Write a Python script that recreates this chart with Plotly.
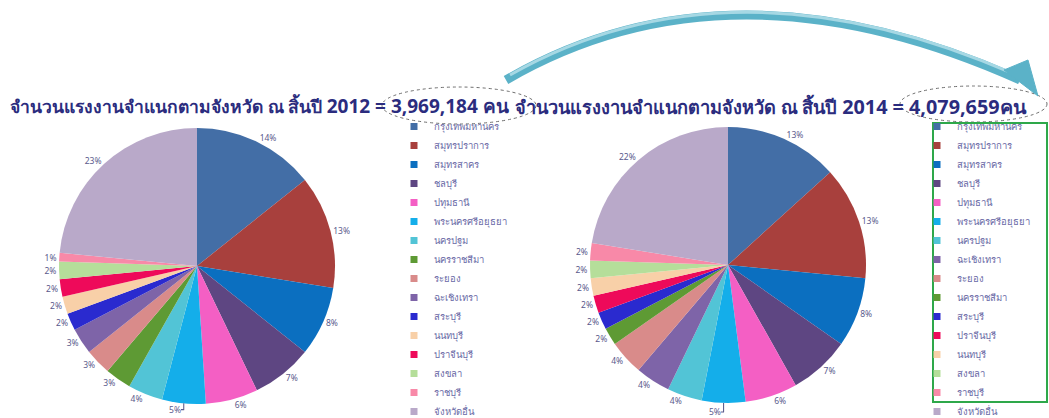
import plotly.graph_objects as go

W, H = 1049, 418

# Provinces (legend order differs between the two years)
provinces_2012 = ["กรุงเทพมหานคร", "สมุทรปราการ", "สมุทรสาคร", "ชลบุรี", "ปทุมธานี",
                  "พระนครศรีอยุธยา", "นครปฐม", "นครราชสีมา", "ระยอง", "ฉะเชิงเทรา",
                  "สระบุรี", "นนทบุรี", "ปราจีนบุรี", "สงขลา", "ราชบุรี", "จังหวัดอื่น"]
share_2012 = [14, 13, 8, 7, 6, 5, 4, 3, 3, 3, 2, 2, 2, 2, 1, 23]

provinces_2014 = ["กรุงเทพมหานคร", "สมุทรปราการ", "สมุทรสาคร", "ชลบุรี", "ปทุมธานี",
                  "พระนครศรีอยุธยา", "นครปฐม", "ฉะเชิงเทรา", "ระยอง", "นครราชสีมา",
                  "สระบุรี", "ปราจีนบุรี", "นนทบุรี", "สงขลา", "ราชบุรี", "จังหวัดอื่น"]
share_2014 = [13, 13, 8, 7, 6, 5, 4, 4, 4, 2, 2, 2, 2, 2, 2, 22]

title_thai = "จำนวนแรงงานจำแนกตามจังหวัด ณ สิ้นปี"
title_2012_total = "2012 = 3,969,184 คน"
title_2014_total = "2014 = 4,079,659คน"

province_colors = {
    "กรุงเทพมหานคร": "#436EA6",
    "สมุทรปราการ": "#A8403D",
    "สมุทรสาคร": "#0B6FC0",
    "ชลบุรี": "#5E4682",
    "ปทุมธานี": "#F45FC4",
    "พระนครศรีอยุธยา": "#14AEEA",
    "นครปฐม": "#52C4D6",
    "นครราชสีมา": "#5E9A34",
    "ระยอง": "#D98B8A",
    "ฉะเชิงเทรา": "#7E64A8",
    "สระบุรี": "#2A2ACF",
    "นนทบุรี": "#F8D0A8",
    "ปราจีนบุรี": "#EE0A5A",
    "สงขลา": "#B5DE9A",
    "ราชบุรี": "#F889A8",
    "จังหวัดอื่น": "#B9A9C9",
}

FONT = "Noto Sans, DejaVu Sans, sans-serif"
TITLE_COLOR = "#2B2C7E"
LEGEND_COLOR = "#6A6AA6"
LABEL_COLOR = "#5A5A8C"


def px_x(x):
    return x / W


def px_y(y):
    return 1 - y / H


def pie(labels, values, dom_x, dom_y):
    return go.Pie(
        labels=labels,
        values=values,
        sort=False,
        direction="clockwise",
        rotation=0,
        marker=dict(colors=[province_colors[p] for p in labels], line=dict(width=0)),
        texttemplate="%{value}%",
        textposition="outside",
        textfont=dict(size=8.5, color=LABEL_COLOR, family=FONT),
        domain=dict(x=[px_x(dom_x[0]), px_x(dom_x[1])], y=[px_y(dom_y[1]), px_y(dom_y[0])]),
        showlegend=False,
        hoverinfo="label+value",
    )


fig = go.Figure()
fig.add_trace(pie(provinces_2012, share_2012, (59, 335), (128, 404)))
fig.add_trace(pie(provinces_2014, share_2014, (590, 866), (127, 403)))

# Legend entries: one small square key per province, in each year's order
for labels, legend in [(provinces_2012, "legend"), (provinces_2014, "legend2")]:
    for p in labels:
        fig.add_trace(go.Scatter(
            x=[None], y=[None], mode="markers", name=p, legend=legend,
            marker=dict(symbol="square", size=7, color=province_colors[p]),
            hoverinfo="skip",
        ))

legend_common = dict(
    font=dict(size=9.5, color=LEGEND_COLOR, family=FONT),
    bgcolor="rgba(0,0,0,0)",
    xanchor="left",
    yanchor="top",
    traceorder="normal",
    itemclick=False,
)
fig.update_layout(
    width=W,
    height=H,
    margin=dict(l=0, r=0, t=0, b=0, autoexpand=False),
    paper_bgcolor="white",
    plot_bgcolor="rgba(0,0,0,0)",
    showlegend=True,
    xaxis=dict(visible=False),
    yaxis=dict(visible=False),
    legend=dict(x=px_x(394), y=px_y(112), **legend_common),
    legend2=dict(x=px_x(917), y=px_y(112), **legend_common),
)

# Chart headings: Thai caption plus the year total in larger digits
for total, x, thai_size, num_size in [(title_2012_total, 8, 17.5, 19),
                                      (title_2014_total, 513, 18.2, 19.8)]:
    fig.add_annotation(
        text=f"<b>{title_thai} <span style='font-size:{num_size}px'>{total}</span></b>",
        x=px_x(x), y=px_y(106), xref="paper", yref="paper",
        xanchor="left", yanchor="middle", showarrow=False,
        font=dict(size=thai_size, color=TITLE_COLOR, family=FONT),
    )

# Dashed ovals around the totals
for x0, x1, y0, y1 in [(382, 536, 87, 124), (900, 1047, 86, 122)]:
    fig.add_shape(type="circle", xref="paper", yref="paper",
                  x0=px_x(x0), x1=px_x(x1), y0=px_y(y1), y1=px_y(y0),
                  line=dict(color="#6E6E6E", width=1, dash="dot"))

# Frame around the 2014 legend
fig.add_shape(type="rect", xref="paper", yref="paper",
              x0=px_x(933), x1=px_x(1047), y0=px_y(402), y1=px_y(123),
              line=dict(color="#2EA84A", width=2))


# Curved arrow linking the two totals
def pt(x, y):
    return f"{px_x(x):.5f},{px_y(y):.5f}"


fig.add_shape(type="path", xref="paper", yref="paper",
              path=f"M {pt(506, 80)} Q {pt(730, -50)} {pt(1020, 80)}",
              line=dict(color="#5BB2C8", width=9))
fig.add_shape(type="path", xref="paper", yref="paper",
              path=f"M {pt(510, 75)} Q {pt(730, -50)} {pt(1014, 74)}",
              line=dict(color="#A6D8E4", width=3))
fig.add_shape(type="path", xref="paper", yref="paper",
              path=f"M {pt(1004, 70)} L {pt(1038, 96)} L {pt(1028, 60)} Z",
              fillcolor="#5BB2C8", line=dict(color="#5BB2C8", width=1))

fig.write_html("out.html")
